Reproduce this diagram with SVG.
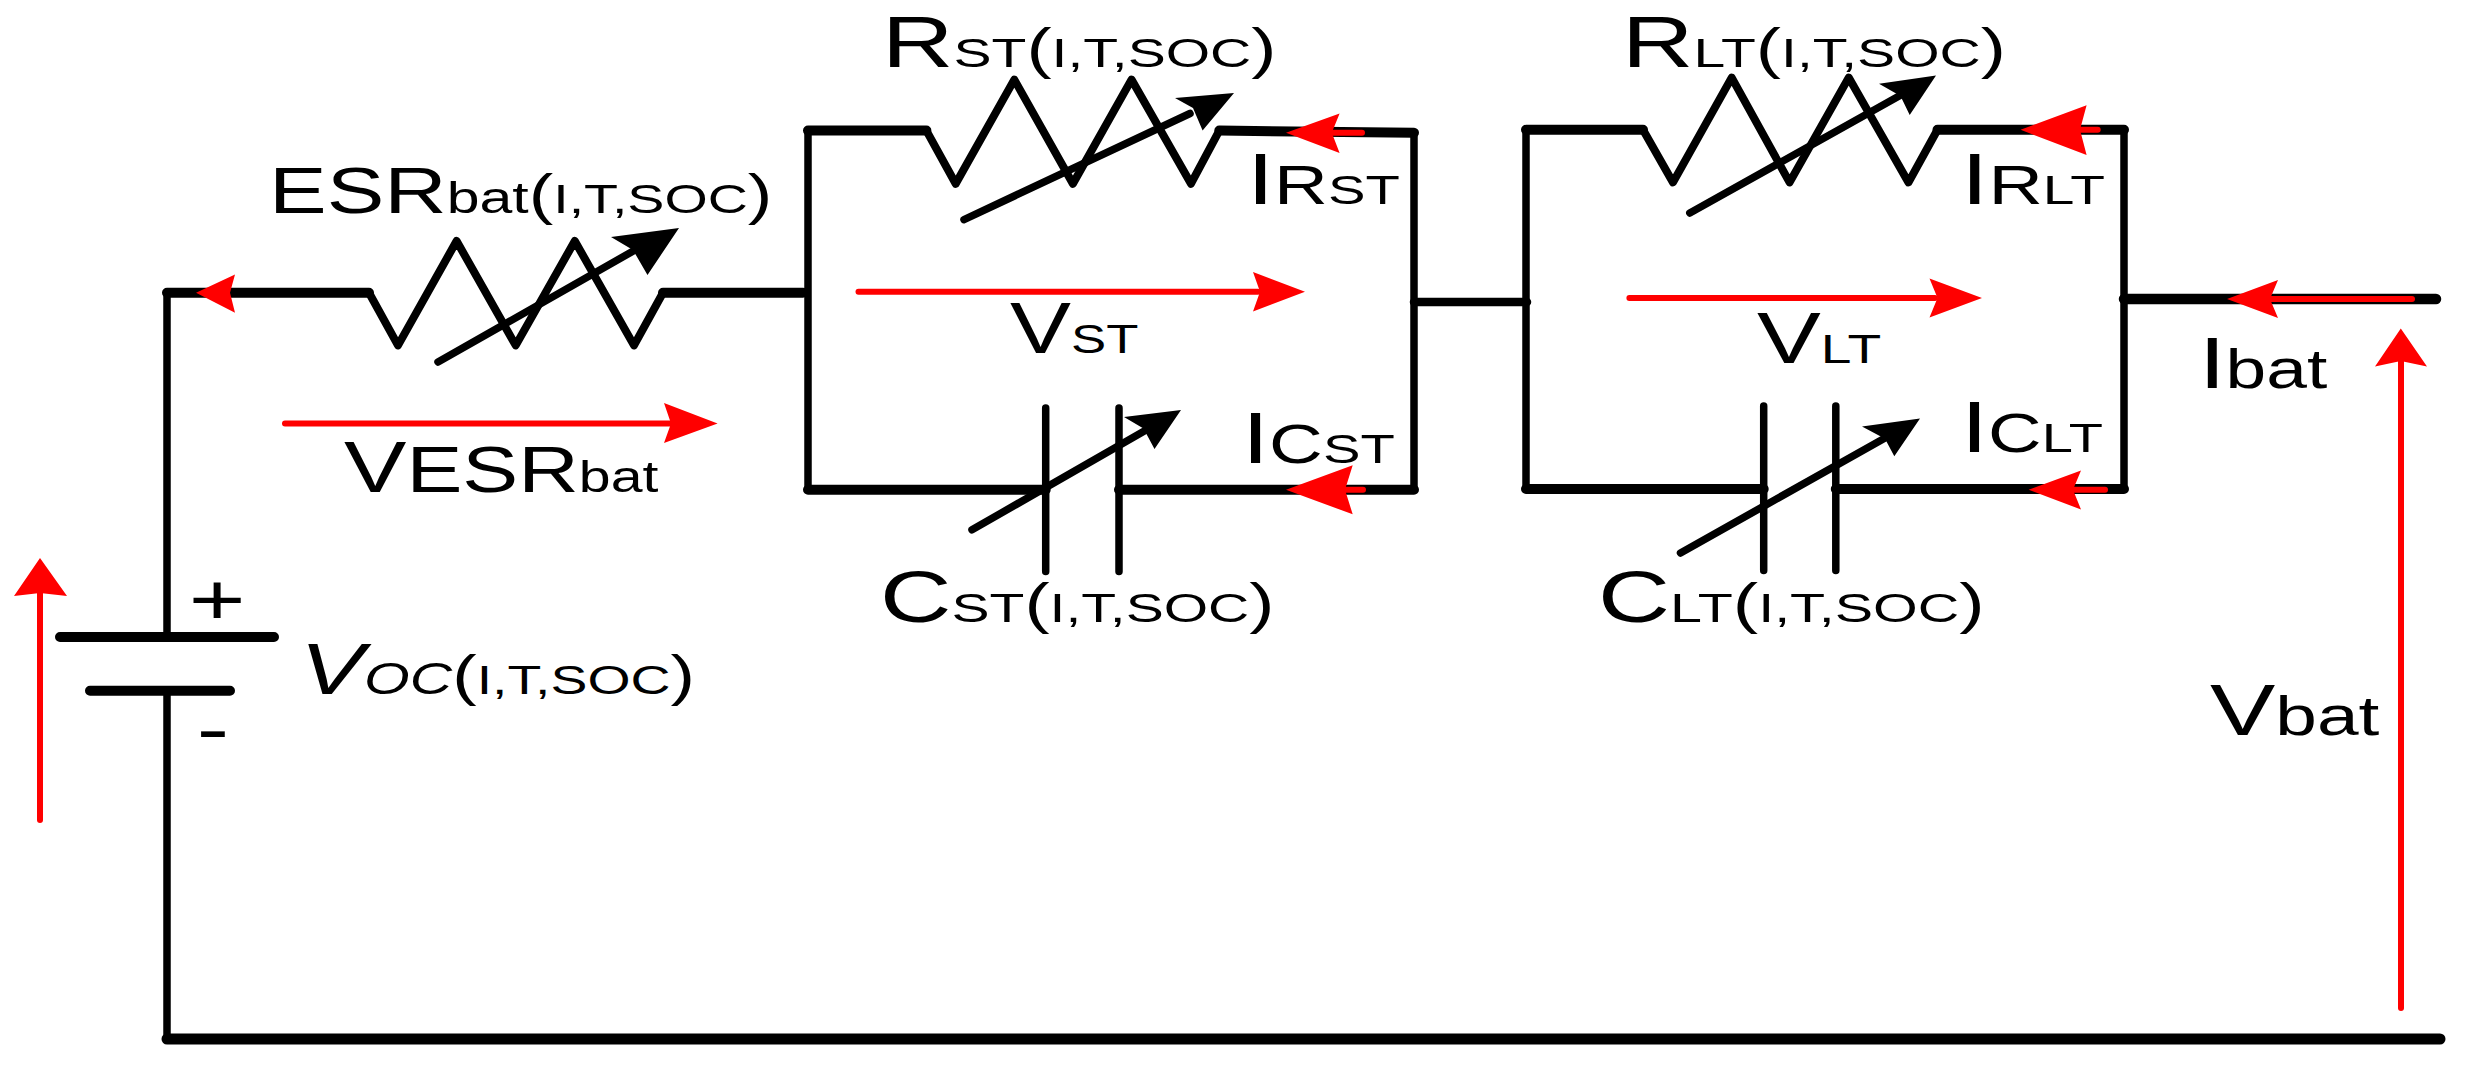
<svg xmlns="http://www.w3.org/2000/svg" width="2466" height="1071" viewBox="0 0 2466 1071">
<style>
.w{fill:none;stroke:#000;stroke-linecap:round;stroke-linejoin:round}
.t{stroke-width:7.5}.h{stroke-width:10}.z{stroke-width:8;stroke-linejoin:round}
.a{fill:#000;stroke:none}
.rl{fill:none;stroke:#f00;stroke-width:6;stroke-linecap:round}
.ra{fill:#f00;stroke:none}
text{font-family:"Liberation Sans",Arial,sans-serif;fill:#000}
.m{font-size:72px}.e{font-size:64.5px}.c{font-size:55px}.s{font-size:41.5px}.b{font-size:44px}.p{font-size:55px}.i{font-style:italic}
</style>
<rect width="2466" height="1071" fill="#fff"/>
<g id="connectors">
<path class="w h" d="M167 292.7H369M663 292.7H803"/>
<path class="w t" d="M167 292.7V637M167 690.7V1039"/>
<path class="w" stroke-width="11" d="M167 1039H2440"/>
<path class="w t" d="M808 130.6V489.8M1414 132.7V489.8M1526 129.8V489M2124 129.8V489"/>
<path class="w h" d="M808 130.6H926.4M1219.3 130.6L1414 132.7M808 489.8H1045.7M1119 489.8H1414"/>
<path class="w" stroke-width="8.5" d="M1414 302H1527"/>
<path class="w h" d="M1526 129.8H1643M1937.5 129.8H2124M1526 489H1763.7M1835.8 489H2124"/>
<path class="w" stroke-width="10.5" d="M2124 299H2436"/>
</g>
<g id="battery">
<path class="w h" d="M60 637H274M90 690.7H230"/>
<text transform="translate(217 624) scale(1.35 1)" text-anchor="middle" style="font-size:72px">+</text>
<text transform="translate(213 753) scale(1.35 1)" text-anchor="middle" style="font-size:72px">-</text>
<text transform="translate(300 694) scale(1.335 1)"><tspan class="m i">V</tspan><tspan class="b i">OC</tspan><tspan class="p">(</tspan><tspan class="s">I,T,SOC</tspan><tspan class="p">)</tspan></text>
</g>
<g id="esr-resistor">
<path class="w z" d="M369 292.7L398 345.4L456.6 241L515.7 345.4L574.8 241L634 345.4L663 292.7"/>
<path class="w t" d="M438 362L635 250"/>
<path class="a" d="M679 228L611 237L633 250L647.5 275Z"/>
<text transform="translate(269 212.8) scale(1.34 1)"><tspan class="e">ESR</tspan><tspan class="b">bat</tspan><tspan class="p">(</tspan><tspan class="s">I,T,SOC</tspan><tspan class="p">)</tspan></text>
</g>
<g id="rst-resistor">
<path class="w z" d="M926.4 130.6L955.7 183.7L1014.3 79.6L1072.9 183.7L1131.5 79.6L1191 183.7L1219.3 130.6"/>
<path class="w t" d="M964 219.6L1190 113.5"/>
<path class="a" d="M1234 93L1175 98L1193 108L1202.6 130.6Z"/>
<text transform="translate(882 66.5) scale(1.375 1)"><tspan class="m">R</tspan><tspan class="s">ST</tspan><tspan class="p">(</tspan><tspan class="s">I,T,SOC</tspan><tspan class="p">)</tspan></text>
</g>
<g id="cst-capacitor">
<path class="w t" d="M1045.7 408V571.4M1119 408V571.4"/>
<path class="w t" d="M972 529.8L1150 427.8"/>
<path class="a" d="M1181 410L1124 417L1143.5 428.6L1154.5 449Z"/>
<text transform="translate(880 621.6) scale(1.375 1)"><tspan class="m">C</tspan><tspan class="s">ST</tspan><tspan class="p">(</tspan><tspan class="s">I,T,SOC</tspan><tspan class="p">)</tspan></text>
</g>
<g id="rlt-resistor">
<path class="w z" d="M1643 129.8L1673 182.4L1731.7 77.6L1789.6 182.4L1848.7 77.6L1908.5 182.4L1937.5 129.8"/>
<path class="w t" d="M1689.8 213L1900 95.6"/>
<path class="a" d="M1936 75.5L1879 83.7L1900.5 96L1909.7 115Z"/>
<text transform="translate(1622 66.5) scale(1.375 1)"><tspan class="m">R</tspan><tspan class="s">LT</tspan><tspan class="p">(</tspan><tspan class="s">I,T,SOC</tspan><tspan class="p">)</tspan></text>
</g>
<g id="clt-capacitor">
<path class="w t" d="M1763.7 406V570.6M1835.8 406V570.6"/>
<path class="w t" d="M1680.5 553L1885 438"/>
<path class="a" d="M1920 418.4L1862 426.5L1885 438.8L1894.3 456.3Z"/>
<text transform="translate(1598 621.6) scale(1.385 1)"><tspan class="m">C</tspan><tspan class="s">LT</tspan><tspan class="p">(</tspan><tspan class="s">I,T,SOC</tspan><tspan class="p">)</tspan></text>
</g>
<g id="current-esr">
<path class="ra" d="M196 292.7L235 274.4L230 292.7L235 312.7Z"/>
</g>
<g id="voltage-esr">
<path class="rl" d="M285 423.5H671"/>
<path class="ra" d="M717.6 423.5L664 403L671 423.5L664 443Z"/>
<text transform="translate(344 492.4) scale(1.3 1)"><tspan class="m">V</tspan><tspan class="e">ESR</tspan><tspan class="b">bat</tspan></text>
</g>
<g id="current-rst">
<path class="rl" d="M1362 132.7H1330"/>
<path class="ra" d="M1286 132.7L1339.6 113.5L1331.8 132.7L1339.6 153Z"/>
<text transform="translate(1247 204) scale(1.355 1)"><tspan class="m">I</tspan><tspan class="c">R</tspan><tspan class="s">ST</tspan></text>
</g>
<g id="voltage-st">
<path class="rl" d="M858.5 291.8H1258"/>
<path class="ra" d="M1305 291.8L1253 272L1260 291.8L1253 311.4Z"/>
<text transform="translate(1010 353) scale(1.27 1)"><tspan class="m">V</tspan><tspan class="s">ST</tspan></text>
</g>
<g id="current-cst">
<path class="rl" stroke-width="8" d="M1363 489.8H1340"/>
<path class="ra" d="M1286 489.8L1352.7 465.3L1345 489.8L1352.7 514.3Z"/>
<text transform="translate(1242 463) scale(1.355 1)"><tspan class="m">I</tspan><tspan class="c">C</tspan><tspan class="s">ST</tspan></text>
</g>
<g id="current-rlt">
<path class="rl" d="M2097.7 129.8H2075"/>
<path class="ra" d="M2020.6 129.8L2086.6 105.3L2080 129.8L2086.6 155Z"/>
<text transform="translate(1961 204) scale(1.37 1)"><tspan class="m">I</tspan><tspan class="c">R</tspan><tspan class="s">LT</tspan></text>
</g>
<g id="voltage-lt">
<path class="rl" d="M1629.4 298H1935"/>
<path class="ra" d="M1982 298L1929.5 278.4L1937.5 298L1929.5 317.6Z"/>
<text transform="translate(1757 363) scale(1.33 1)"><tspan class="m">V</tspan><tspan class="s">LT</tspan></text>
</g>
<g id="current-clt">
<path class="rl" d="M2105 489.8H2070"/>
<path class="ra" d="M2028.6 489.8L2081 470.6L2073 489.8L2081 509.4Z"/>
<text transform="translate(1961 452) scale(1.35 1)"><tspan class="m">I</tspan><tspan class="c">C</tspan><tspan class="s">LT</tspan></text>
</g>
<g id="current-bat">
<path class="rl" d="M2412 299H2265"/>
<path class="ra" d="M2227 299L2278 280L2270 299L2278 318Z"/>
<text transform="translate(2199 387.8) scale(1.33 1)"><tspan class="m">I</tspan><tspan class="c">bat</tspan></text>
</g>
<g id="voltage-bat">
<path class="rl" d="M2401 1008V361"/>
<path class="ra" d="M2400.8 328.6L2375 366.5L2400.8 361L2427 366.5Z"/>
<text transform="translate(2210 735) scale(1.36 1)"><tspan class="m">V</tspan><tspan class="c">bat</tspan></text>
</g>
<g id="voltage-oc">
<path class="rl" d="M40 820V593"/>
<path class="ra" d="M40 558L14 596L40 593L67 596Z"/>
</g>
</svg>
